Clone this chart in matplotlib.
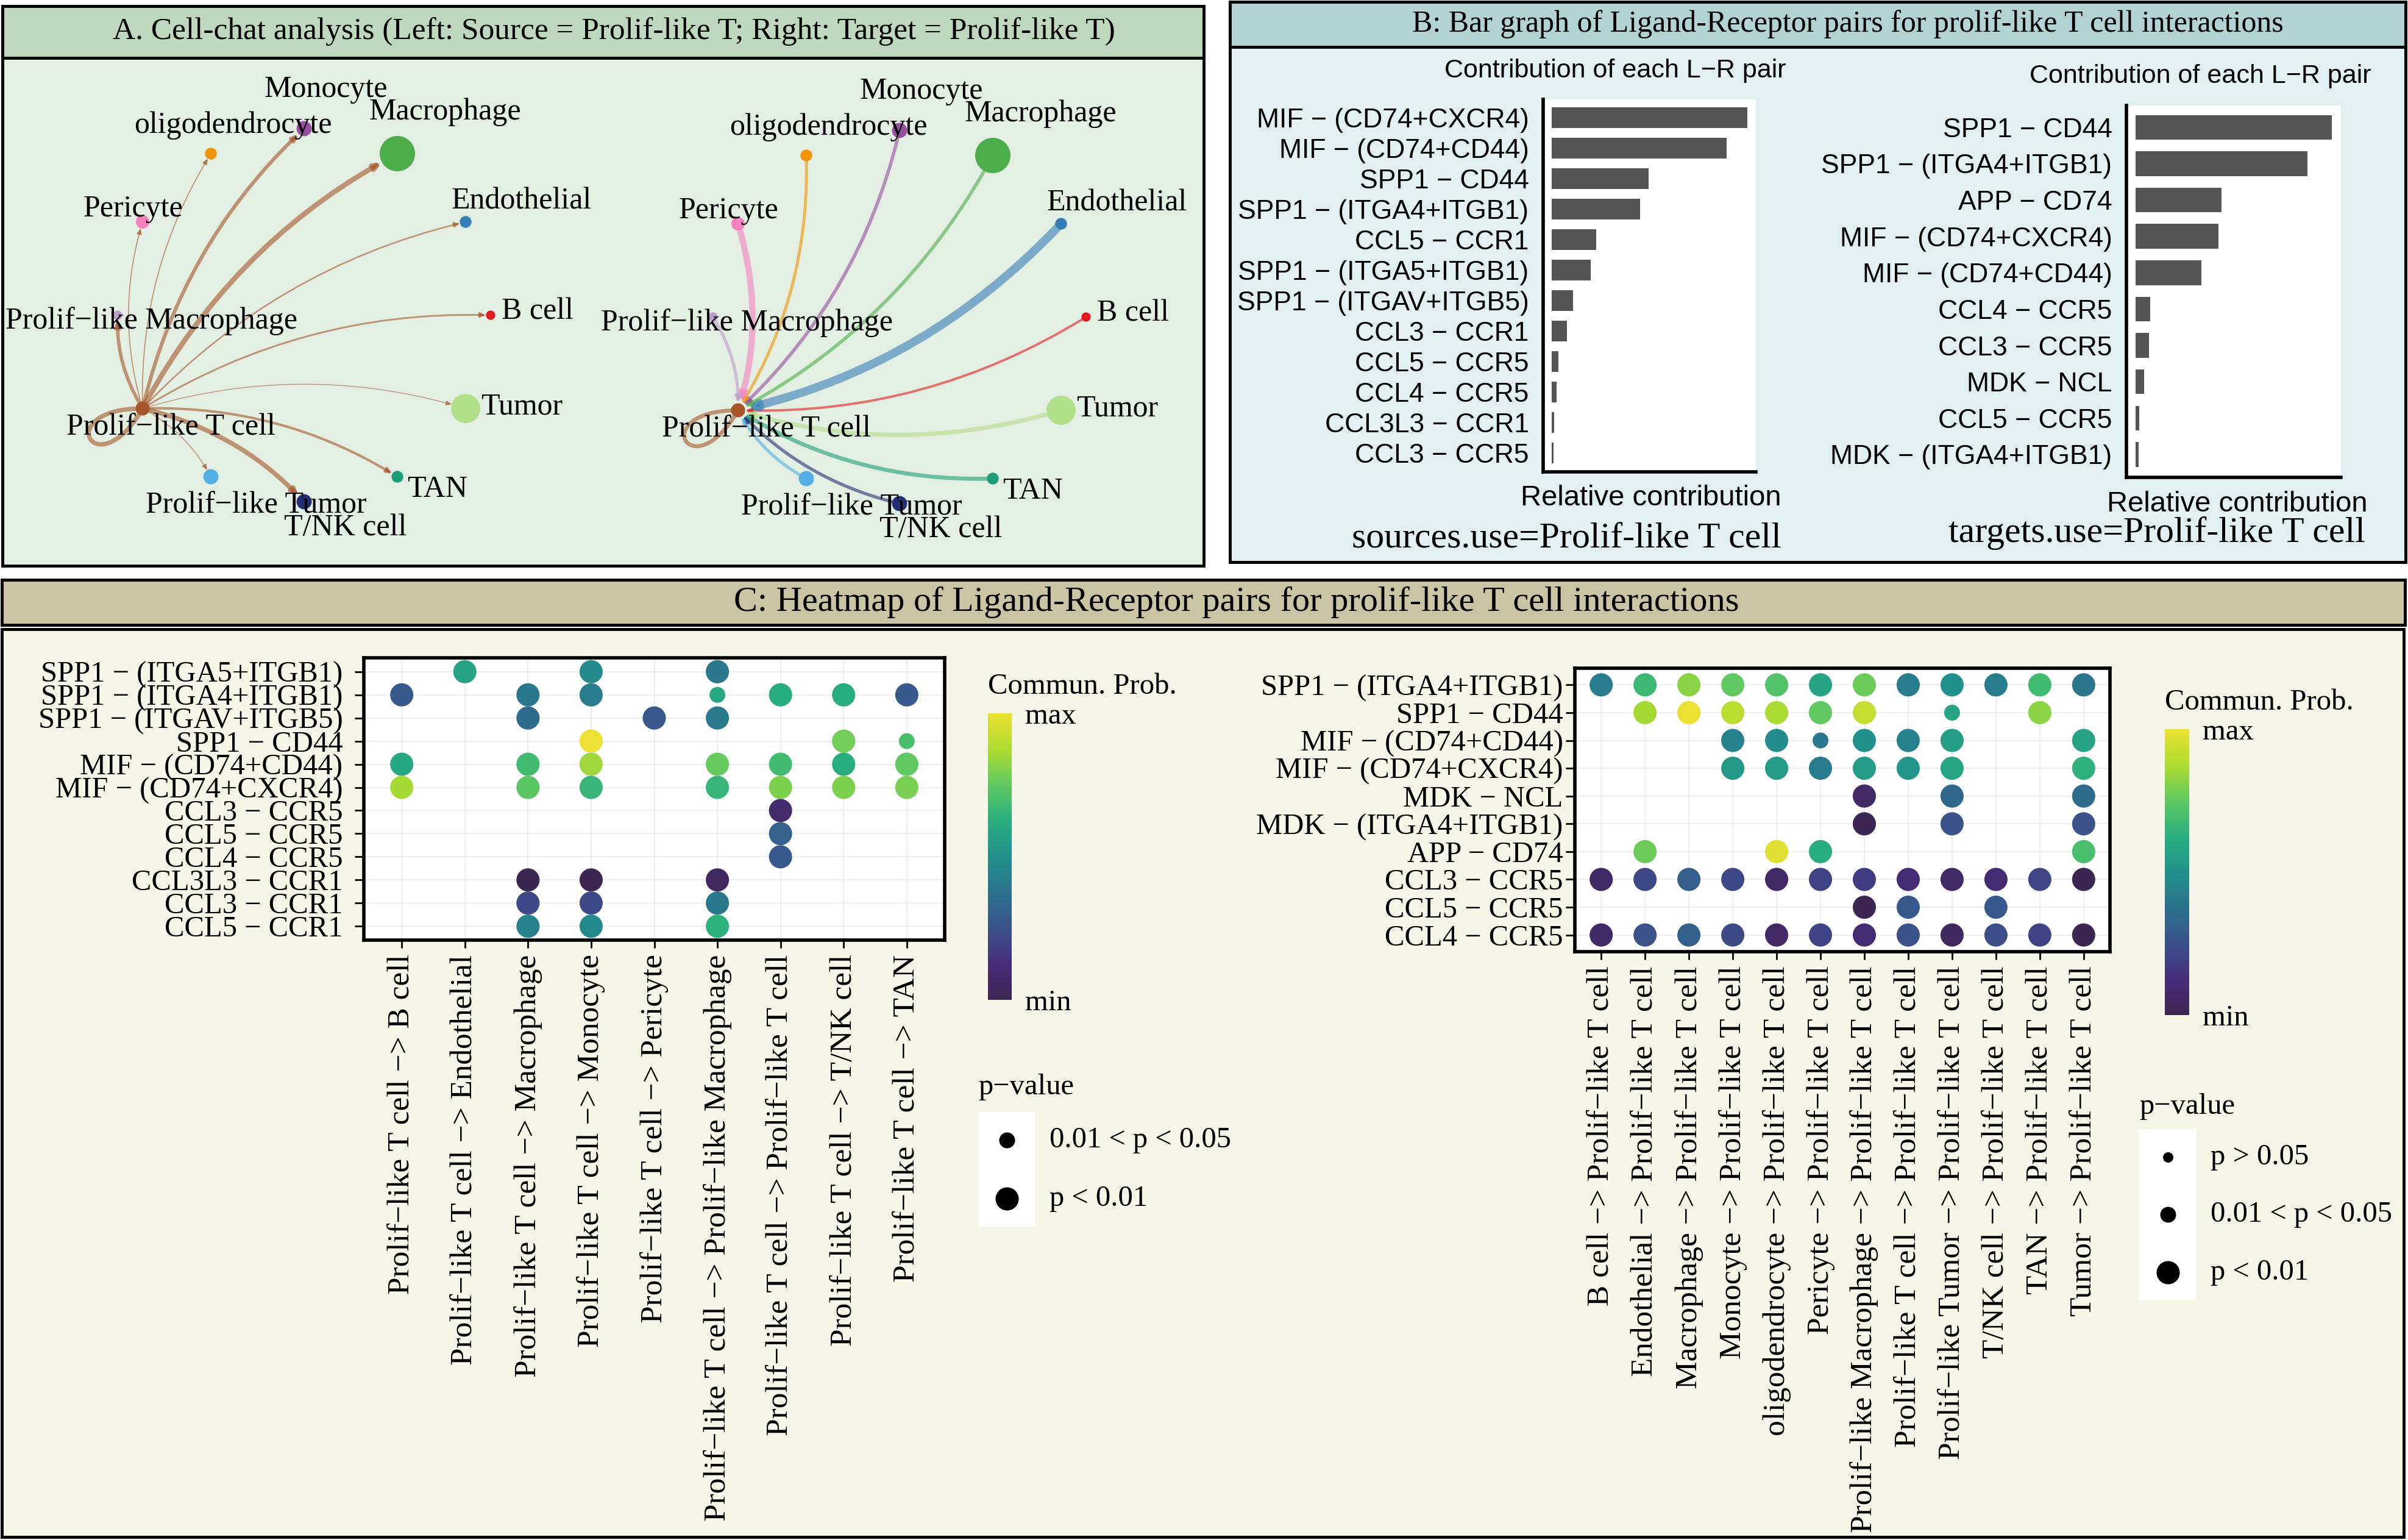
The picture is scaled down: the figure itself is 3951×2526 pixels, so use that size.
import numpy as np
import matplotlib.pyplot as plt
from matplotlib.patches import Rectangle, FancyArrowPatch, PathPatch
from matplotlib.path import Path
from matplotlib.cm import ScalarMappable
from matplotlib.colors import Normalize, LinearSegmentedColormap

plt.rcParams['font.family'] = ['Liberation Serif', 'DejaVu Serif']

W, H = 3951, 2526
N = np.nan

# ---------------- data ----------------
# panel A: cell-chat circle plots
cell_types = ['B cell', 'Endothelial', 'Macrophage', 'Monocyte', 'oligodendrocyte', 'Pericyte',
              'Prolif−like Macrophage', 'Prolif−like T cell', 'Prolif−like Tumor', 'T/NK cell',
              'TAN', 'Tumor']
cell_colors = ['#E41A1C', '#377EB8', '#4DAF4A', '#984EA3', '#F29403', '#F781BF',
               '#BC9DCC', '#A65628', '#54B0E4', '#222F75', '#1B9E77', '#B2DF8A']
cell_size = [0.07, 0.16, 1.0, 0.28, 0.16, 0.22, 0.07, 0.24, 0.28, 0.28, 0.16, 0.78]
# strength Prolif-like T cell -> each type
out_strength = [0.30, 0.25, 1.0, 0.70, 0.15, 0.15, 0.65, 0.85, 0.12, 0.90, 0.45, 0.10]
# strength each type -> Prolif-like T cell
in_strength = [0.25, 1.0, 0.38, 0.38, 0.33, 0.72, 0.35, 0.45, 0.35, 0.35, 0.45, 0.50]
# label offsets from node (pixels)
label_offset = [(77, 6), (92, 34), (78, 68), (36, 64), (36, 46), (-16, 21), (55, -10),
                (46, -31), (74, -47), (68, -43), (65, -21), (92, 3)]

# panel B: relative contribution of L-R pairs
src_pairs = ['MIF − (CD74+CXCR4)', 'MIF − (CD74+CD44)', 'SPP1 − CD44', 'SPP1 − (ITGA4+ITGB1)',
             'CCL5 − CCR1', 'SPP1 − (ITGA5+ITGB1)', 'SPP1 − (ITGAV+ITGB5)', 'CCL3 − CCR1',
             'CCL5 − CCR5', 'CCL4 − CCR5', 'CCL3L3 − CCR1', 'CCL3 − CCR5']
src_contrib = [0.284, 0.254, 0.141, 0.128, 0.064, 0.056, 0.031, 0.022, 0.009, 0.007, 0.003, 0.002]
tgt_pairs = ['SPP1 − CD44', 'SPP1 − (ITGA4+ITGB1)', 'APP − CD74', 'MIF − (CD74+CXCR4)',
             'MIF − (CD74+CD44)', 'CCL4 − CCR5', 'CCL3 − CCR5', 'MDK − NCL', 'CCL5 − CCR5',
             'MDK − (ITGA4+ITGB1)']
tgt_contrib = [0.303, 0.265, 0.133, 0.128, 0.102, 0.023, 0.021, 0.014, 0.006, 0.005]

# panel C: bubble heatmaps (scaled communication probability)
left_rows = ['SPP1 − (ITGA5+ITGB1)', 'SPP1 − (ITGA4+ITGB1)', 'SPP1 − (ITGAV+ITGB5)', 'SPP1 − CD44',
             'MIF − (CD74+CD44)', 'MIF − (CD74+CXCR4)', 'CCL3 − CCR5', 'CCL5 − CCR5', 'CCL4 − CCR5',
             'CCL3L3 − CCR1', 'CCL3 − CCR1', 'CCL5 − CCR1']
left_cols = ['Prolif−like T cell −> B cell', 'Prolif−like T cell −> Endothelial',
             'Prolif−like T cell −> Macrophage', 'Prolif−like T cell −> Monocyte',
             'Prolif−like T cell −> Pericyte', 'Prolif−like T cell −> Prolif−like Macrophage',
             'Prolif−like T cell −> Prolif−like T cell', 'Prolif−like T cell −> T/NK cell',
             'Prolif−like T cell −> TAN']
left_prob = np.array([
    [N, .58, N, .47, N, .40, N, N, N],
    [.28, N, .40, .42, N, .60, .62, .62, .28],
    [N, N, .35, N, .27, .41, N, N, N],
    [N, N, N, 1.0, N, N, N, .78, .70],
    [.60, N, .68, .85, N, .76, .68, .62, .75],
    [.86, N, .74, .66, N, .66, .80, .80, .79],
    [N, N, N, N, N, N, .08, N, N],
    [N, N, N, N, N, N, .32, N, N],
    [N, N, N, N, N, N, .28, N, N],
    [N, N, .0, .0, N, .05, N, N, N],
    [N, N, .22, .22, N, .40, N, N, N],
    [N, N, .44, .47, N, .64, N, N, N]])
left_mid = [(1, 5), (3, 8)]          # 0.01 < p < 0.05, rest p < 0.01

right_rows = ['SPP1 − (ITGA4+ITGB1)', 'SPP1 − CD44', 'MIF − (CD74+CD44)', 'MIF − (CD74+CXCR4)',
              'MDK − NCL', 'MDK − (ITGA4+ITGB1)', 'APP − CD74', 'CCL3 − CCR5', 'CCL5 − CCR5',
              'CCL4 − CCR5']
right_cols = ['B cell −> Prolif−like T cell', 'Endothelial −> Prolif−like T cell',
              'Macrophage −> Prolif−like T cell', 'Monocyte −> Prolif−like T cell',
              'oligodendrocyte −> Prolif−like T cell', 'Pericyte −> Prolif−like T cell',
              'Prolif−like Macrophage −> Prolif−like T cell', 'Prolif−like T cell −> Prolif−like T cell',
              'Prolif−like Tumor −> Prolif−like T cell', 'T/NK cell −> Prolif−like T cell',
              'TAN −> Prolif−like T cell', 'Tumor −> Prolif−like T cell']
right_prob = np.array([
    [.42, .67, .82, .75, .72, .58, .77, .42, .50, .42, .68, .39],
    [N, .86, 1.0, .90, .87, .75, .92, N, .58, N, .82, N],
    [N, N, N, .44, .48, .40, .50, .44, .56, N, N, .58],
    [N, N, N, .53, .55, .42, .54, .52, .59, N, N, .64],
    [N, N, N, N, N, N, .06, N, .33, N, N, .35],
    [N, N, N, N, N, N, .0, N, .25, N, N, .25],
    [N, .77, N, N, .98, .62, N, N, N, N, N, .70],
    [.07, .22, .30, .22, .06, .20, .18, .10, .06, .10, .21, .0],
    [N, N, N, N, N, N, .0, .28, N, .28, N, N],
    [.07, .25, .31, .23, .06, .20, .10, .25, .05, .24, .20, .0]])
right_mid = [(1, 8), (2, 5)]

pval_labels = ['p > 0.05', '0.01 < p < 0.05', 'p < 0.01']
pval_size = [150, 350, 750]

# viridis as it appears in the figure (slightly muted ends)
prob_cmap = LinearSegmentedColormap.from_list(
    'prob', ['#3b2752', '#472d7b', '#3b528b', '#2c728e', '#21918c',
             '#28ae80', '#5ec962', '#addc30', '#ece033'])

# ---------------- figure ----------------
fig = plt.figure(figsize=(W / 100, H / 100), dpi=100, facecolor='white')


def px_axes(x0, y0, x1, y1, **kw):
    return fig.add_axes([x0 / W, 1 - y1 / H, (x1 - x0) / W, (y1 - y0) / H], **kw)


cv = px_axes(0, 0, W, H)
cv.set_xlim(0, W)
cv.set_ylim(H, 0)
cv.axis('off')


def box(x0, y0, x1, y1, fc):
    cv.add_patch(Rectangle((x0, y0), x1 - x0, y1 - y0, fc=fc, ec='black', lw=3.5))


# panel frames
box(4, 10, 1975, 928, '#e4efe3')
box(4, 10, 1975, 95, '#bdd8bd')
box(2018, 3, 3947, 922, '#e2f0f1')
box(2018, 3, 3947, 77, '#b3d3d3')
box(3, 951, 3946, 1025, '#c8c4a4')
box(3, 1032, 3944, 2521, '#f5f5e8')

cv.text(1007, 52, 'A. Cell-chat analysis (Left: Source = Prolif-like T; Right: Target = Prolif-like T)',
        fontsize=37, ha='center', va='center')
cv.text(3032, 40, 'B: Bar graph of Ligand-Receptor pairs for prolif-like T cell interactions',
        fontsize=36, ha='center', va='center')
cv.text(2029, 988, 'C: Heatmap of Ligand-Receptor pairs for prolif-like T cell interactions',
        fontsize=42, ha='center', va='center')


# ---------------- panel A ----------------
def draw_network(ax, strength, outgoing, max_lw):
    n = len(cell_types)
    hub = cell_types.index('Prolif−like T cell')
    ang = np.deg2rad(30 * np.arange(n))
    pos = np.c_[np.cos(ang), np.sin(ang)]
    diam = 12 + 46 * np.array(cell_size)          # node diameter, px
    wmax = max(strength)
    for i in range(n):
        lw = 0.4 + max_lw * strength[i] / wmax
        if i == hub:
            d = pos[hub]
            rot = lambda v, t: np.array([v[0] * np.cos(t) - v[1] * np.sin(t),
                                         v[0] * np.sin(t) + v[1] * np.cos(t)])
            p0 = pos[hub]
            verts = [p0, p0 + 0.5 * rot(d, np.deg2rad(30)), p0 + 0.5 * rot(d, np.deg2rad(-30)), p0]
            loop = Path(verts, [Path.MOVETO, Path.CURVE4, Path.CURVE4, Path.CURVE4])
            ax.add_patch(PathPatch(loop, fc='none', ec=cell_colors[hub], lw=lw, alpha=0.6))
            continue
        a, b = (hub, i) if outgoing else (i, hub)
        arr = FancyArrowPatch(pos[a], pos[b], connectionstyle='arc3,rad=-0.15',
                              arrowstyle='-|>,head_length=0.5,head_width=0.22', mutation_scale=11,
                              lw=lw, color=cell_colors[a], alpha=0.6,
                              shrinkA=diam[a] * 0.36, shrinkB=diam[b] * 0.36)
        ax.add_patch(arr)
    ax.scatter(pos[:, 0], pos[:, 1], s=(diam * 0.72) ** 2, c=cell_colors, linewidths=0, zorder=3)
    for i, name in enumerate(cell_types):
        ax.annotate(name, pos[i], xytext=label_offset[i], textcoords='offset pixels',
                    fontsize=36, ha='center', va='center', zorder=4)


R = 306
for (x0, x1, cx, cy, strength, outgoing, mlw) in [(6, 988, 499, 517, out_strength, True, 5.6),
                                                  (988, 1972, 1476, 520, in_strength, False, 9.6)]:
    y0, y1 = 97, 925
    ax = px_axes(x0, y0, x1, y1)
    ax.set_xlim((x0 - cx) / R, (x1 - cx) / R)
    ax.set_ylim((cy - y1) / R, (cy - y0) / R)
    ax.axis('off')
    draw_network(ax, strength, outgoing, mlw)


# ---------------- panel B ----------------
def bar_plot(ax, pairs, vals):
    y = np.arange(len(pairs))
    ax.barh(y, vals, height=0.68, color='#555555')
    ax.set_yticks(y)
    ax.set_yticklabels(pairs, fontfamily='Liberation Sans', fontsize=32)
    ax.set_ylim(len(pairs) - 1 + 0.63, -0.6)
    m = max(vals)
    ax.set_xlim(-0.045 * m, 1.045 * m)
    ax.set_xticks([])
    ax.tick_params(axis='y', length=0, pad=17)
    for s in ['top', 'right']:
        ax.spines[s].set_visible(False)
    for s in ['left', 'bottom']:
        ax.spines[s].set_linewidth(4)
    ax.set_facecolor('white')


bar_plot(px_axes(2532, 163, 2881, 774), src_pairs, src_contrib)
bar_plot(px_axes(3489, 173, 3841, 783), tgt_pairs, tgt_contrib)

for x, y, s in [(2931, 116, 'Contribution of each L−R pair'), (3891, 125, 'Contribution of each L−R pair')]:
    cv.text(x, y, s, fontsize=31, fontfamily='Liberation Sans', ha='right', va='center')
for x, y, s in [(2923, 817, 'Relative contribution'), (3885, 827, 'Relative contribution')]:
    cv.text(x, y, s, fontsize=34, fontfamily='Liberation Sans', ha='right', va='center')
cv.text(2923, 883, 'sources.use=Prolif-like T cell', fontsize=43, ha='right', va='center')
cv.text(3881, 875, 'targets.use=Prolif-like T cell', fontsize=43, ha='right', va='center')


# ---------------- panel C ----------------
def dot_plot(ax, prob, mid, rows, cols, ypad):
    r, c = np.where(~np.isnan(prob))
    cls = np.full(len(r), 2)
    for k, (ri, ci) in enumerate(zip(r, c)):
        if (ri, ci) in mid:
            cls[k] = 1
    ax.scatter(c, r, s=np.array(pval_size)[cls], c=prob[r, c], cmap=prob_cmap, vmin=0, vmax=1,
               linewidths=0, zorder=3)
    ax.set_xticks(range(len(cols)))
    ax.set_xticklabels(cols, rotation=90, fontsize=37)
    ax.set_yticks(range(len(rows)))
    ax.set_yticklabels(rows, fontsize=35)
    ax.set_xlim(-0.6, len(cols) - 0.4)
    ax.set_ylim(len(rows) - 0.4, -0.6)
    ax.grid(color='#ebebeb', lw=1.2)
    ax.set_axisbelow(True)
    ax.set_facecolor('white')
    for s in ax.spines.values():
        s.set_linewidth(4)
    ax.tick_params(axis='x', length=9, width=2, pad=8)
    ax.tick_params(axis='y', length=11, width=2, pad=ypad)


dot_plot(px_axes(597, 1079, 1550, 1542), left_prob, left_mid, left_rows, left_cols, 14)
dot_plot(px_axes(2584, 1096, 3462, 1561), right_prob, right_mid, right_rows, right_cols, 3)

# colour bars
for (x0, y0, x1, y1) in [(1621, 1170, 1660, 1640), (3552, 1196, 3592, 1665)]:
    cax = px_axes(x0, y0, x1, y1)
    cb = fig.colorbar(ScalarMappable(norm=Normalize(0, 1), cmap=prob_cmap), cax=cax)
    cb.set_ticks([0, 1])
    cb.set_ticklabels(['min', 'max'])
    cb.outline.set_visible(False)
    cax.tick_params(length=0, labelsize=35, pad=16)
    cv.text(x0, y0 - 44, 'Commun. Prob.', fontsize=35, ha='left', va='center')

# p-value legends
for (x0, ty, ys, keys) in [(1605, 1783, [1870, 1966], [1, 2]),
                           (3510, 1815, [1898, 1992, 2087], [0, 1, 2])]:
    cv.text(x0, ty, 'p−value', fontsize=35, ha='left', va='center')
    cv.add_patch(Rectangle((x0, ys[0] - 46), 94, ys[-1] - ys[0] + 92, fc='white', ec='none'))
    for y, k in zip(ys, keys):
        cv.scatter([x0 + 47], [y], s=pval_size[k], color='black', linewidths=0)
        cv.text(x0 + 117, y, pval_labels[k], fontsize=35, ha='left', va='center')

fig.savefig('out.png', dpi=100, facecolor='white')
